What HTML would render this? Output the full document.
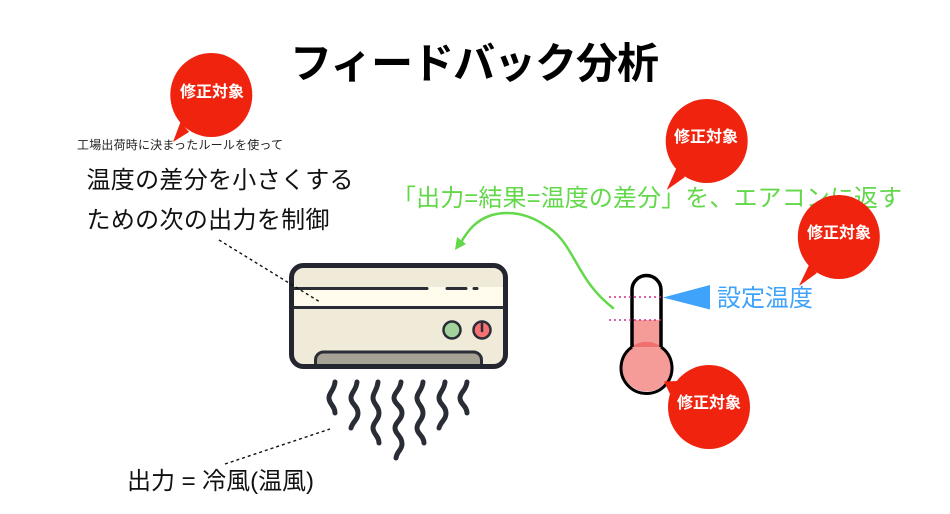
<!DOCTYPE html>
<html lang="ja"><head><meta charset="utf-8"><style>
html,body{margin:0;padding:0;background:#fff}
svg{display:block}
text{font-family:"Liberation Sans","Noto Sans CJK JP",sans-serif}
</style></head><body>
<svg width="950" height="514" viewBox="0 0 950 514" xmlns="http://www.w3.org/2000/svg">
<rect width="950" height="514" fill="#fff"/>
<text x="290" y="78" font-size="42" font-weight="700" fill="#000" textLength="369">フィードバック分析</text>

<text x="77" y="149" font-size="12" fill="#222" textLength="206">工場出荷時に決まったルールを使って</text>
<text x="86.5" y="188" font-size="24" fill="#111" textLength="267">温度の差分を小さくする</text>
<text x="86.5" y="228" font-size="24" fill="#111" textLength="243">ための次の出力を制御</text>
<text x="127" y="489" font-size="24" fill="#111" textLength="187">出力 = 冷風(温風)</text>

<text x="392" y="206" font-size="24" fill="#62d84a" textLength="510">「出力=結果=温度の差分」を、エアコンに返す</text>

<!-- air conditioner -->
<rect x="291.5" y="265.5" width="214" height="101" rx="12" fill="#efebd8"/>
<rect x="293" y="287" width="211" height="20" fill="#fffcee"/>
<path d="M315.5 366V360A8 8 0 0 1 323.5 352H473.5A8 8 0 0 1 481.5 360V366Z" fill="#a7a296" stroke="#2a2d36" stroke-width="3"/>
<rect x="291.5" y="265.5" width="214" height="101" rx="12" fill="none" stroke="#23262f" stroke-width="5"/>
<line x1="293" y1="307.5" x2="504" y2="307.5" stroke="#2a2d36" stroke-width="3"/>
<g stroke="#2a2d36" stroke-width="3" stroke-linecap="round">
<line x1="293" y1="288.5" x2="427" y2="288.5"/>
<line x1="447" y1="288.5" x2="466" y2="288.5"/>
<line x1="474" y1="288.5" x2="477" y2="288.5"/>
</g>
<circle cx="452" cy="330" r="8.5" fill="#a3d39c" stroke="#2a2d36" stroke-width="2.5"/>
<circle cx="482" cy="330" r="8.5" fill="#f47272" stroke="#2a2d36" stroke-width="2.5"/>
<line x1="482" y1="322" x2="482" y2="331" stroke="#2a2d36" stroke-width="2.5" stroke-linecap="round"/>

<line x1="219" y1="240" x2="320" y2="302" stroke="#111" stroke-width="1.4" stroke-dasharray="3 3"/>
<line x1="225" y1="464" x2="330" y2="429" stroke="#111" stroke-width="1.4" stroke-dasharray="3 3"/>

<g fill="none" stroke="#2a2d36" stroke-width="5" stroke-linecap="round">
<path d="M335 382C334 391 329 392 329 398C329 404 335 406 335 413"/>
<path d="M357 382C356 391 351 392 351 398C351 404 358 406 358 413C358 420 353 421 351 428"/>
<path d="M378 382C377 391 373 392 373 398C373 404 379 406 379 413C379 420 373 422 373 428C373 434 379 436 379 443"/>
<path d="M401 382C400 391 394 392 394 398C394 404 402 406 402 413C402 420 395 422 395 428C395 434 402 436 402 444C402 450 397 451 396 458"/>
<path d="M423 382C422 391 417 392 417 398C417 404 423 406 423 413C423 420 417 422 417 428C417 434 424 436 424 443"/>
<path d="M445 382C444 391 439 392 439 398C439 404 446 406 446 413C446 420 441 421 439 428"/>
<path d="M467 382C466 391 460 392 460 398C460 404 467 406 467 413"/>
</g>

<!-- green arrow -->
<path d="M613 308C590 290 582 272 573 257C565 243 558 233 546 226C530 215 512 210 492 215C476 220 468 230 460 244" fill="none" stroke="#62d84a" stroke-width="2.5" stroke-linecap="round"/>
<polygon points="455,250 457,237 466,244" fill="#62d84a"/>

<!-- thermometer -->
<path d="M632 320H661V350H632Z" fill="#f59b98"/>
<circle cx="646.7" cy="366.5" r="25" fill="#f59b98"/>
<path d="M632 347V346.5A25 25 0 0 1 661 346.5V347Z" fill="#f07070"/>
<path d="M632 347V290A14.5 14.5 0 0 1 661 290V347" fill="none" stroke="#000" stroke-width="3.5"/>
<path d="M632 347A25.5 25.5 0 1 0 661 347" fill="none" stroke="#000" stroke-width="3"/>
<line x1="609" y1="297" x2="661" y2="297" stroke="#d02f87" stroke-width="1.6" stroke-dasharray="2 3"/>
<line x1="609" y1="320" x2="661" y2="320" stroke="#d02f87" stroke-width="1.6" stroke-dasharray="2 3"/>
<polygon points="663,297.5 710,285 710,309.5" fill="#3fa2fb"/>
<text x="717" y="306" font-size="24" fill="#3fa2fb" textLength="96">設定温度</text>

<!-- bubbles -->
<g fill="#f0230e">
<ellipse cx="211.3" cy="95" rx="41" ry="42"/><polygon points="173,142 180.5,122 189,132"/>
<ellipse cx="706.7" cy="141" rx="41" ry="42"/><polygon points="666.7,190 676.5,168 685,177"/>
<ellipse cx="838.8" cy="237" rx="41" ry="42"/><polygon points="799,286 809,265 817,273"/>
<ellipse cx="709" cy="407" rx="41" ry="42"/><polygon points="664,381.5 677,381 670,394"/>
</g>
<g font-size="16" font-weight="700" fill="#fff" text-anchor="middle">
<text x="212" y="97">修正対象</text>
<text x="706" y="142">修正対象</text>
<text x="839" y="238">修正対象</text>
<text x="709" y="408">修正対象</text>
</g>
</svg>
</body></html>
